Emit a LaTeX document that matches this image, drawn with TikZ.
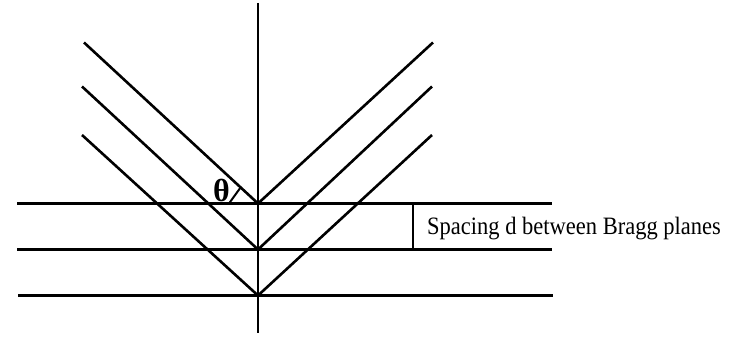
\documentclass[tikz,border=0pt]{standalone}
\usepackage{fontspec}
\setmainfont{Liberation Serif}
\begin{document}
\begin{tikzpicture}[x=1pt,y=-1pt,
  ray/.style={line width=2.6pt},
  plane/.style={line width=2.8pt},
  normal/.style={line width=2pt},
  lbl/.style={inner sep=0pt,font=\fontsize{25}{28}\selectfont},
  ang/.style={inner sep=0pt,font=\fontsize{32}{34}\selectfont\bfseries}]
\useasboundingbox (0,0) rectangle (737,339);
% apexes
\coordinate (A1) at (258,203.5);
\coordinate (A2) at (258,249.5);
\coordinate (A3) at (258,295.5);
% ray ends
\coordinate (L1) at (84,42.5);
\coordinate (L2) at (82,86.5);
\coordinate (L3) at (82,135);
\coordinate (R1) at (433,42.5);
\coordinate (R2) at (432,86.5);
\coordinate (R3) at (432,135);
% plane ends
\coordinate (P1a) at (17,203.5);   \coordinate (P1b) at (552,203.5);
\coordinate (P2a) at (17,249.5); \coordinate (P2b) at (552,249.5);
\coordinate (P3a) at (18,295.5); \coordinate (P3b) at (553,295.5);
% normal
\coordinate (Nt) at (258,3);
\coordinate (Nb) at (258,333);
% spacing bar
\coordinate (S1) at (413,203.5);
\coordinate (S2) at (413,249.5);
% angle marker
\coordinate (T1) at (229,203.5);
\coordinate (T2) at (240.4,187.7);

\draw[normal] (Nt) -- (Nb);
\draw[plane] (P1a) -- (P1b);
\draw[plane] (P2a) -- (P2b);
\draw[plane] (P3a) -- (P3b);
\draw[ray,line join=miter] (L1) -- (A1) -- (R1);
\draw[ray,line join=miter] (L2) -- (A2) -- (R2);
\draw[ray,line join=miter] (L3) -- (A3) -- (R3);
\draw[line width=2pt] (S1) -- (S2);
\draw[line width=2pt] (T1) -- (T2);
\node[ang,anchor=base west] (theta) at (213,202) {θ};
\node[lbl,anchor=base west] (spacing) at (427,234.5) {\scalebox{0.9}[1]{Spacing d between Bragg planes}};
\end{tikzpicture}
\end{document}
